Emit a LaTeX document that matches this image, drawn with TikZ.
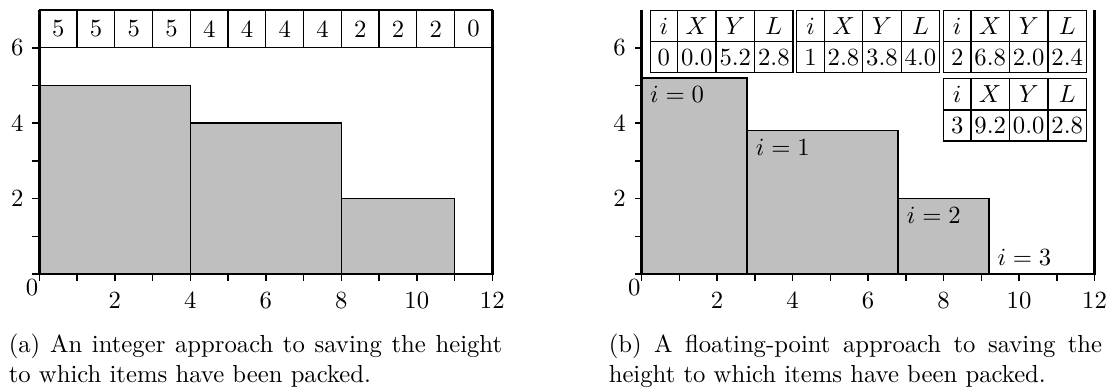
\documentclass[tikz,border=0pt]{standalone}
\usepackage{amsmath}
\usetikzlibrary{matrix}
\tikzset{
    axisline/.style={line width=1.2pt},
    tickline/.style={line width=0.6pt},
    tabline/.style={line width=0.5pt},
    bar/.style={fill=black!25, draw=black, line width=0.6pt},
    cell/.style={draw=black, line width=0.5pt, inner sep=0pt, minimum width=15.6pt, minimum height=12.6pt, text height=6.8pt, text depth=0pt},
    itemtab/.style={matrix of nodes, inner sep=0pt, anchor=north west, nodes={cell}, column sep=-0.5pt, row sep=-0.5pt, column 1/.style={nodes={minimum width=11.1pt}}},
    barlabel/.style={anchor=north west},
    caption/.style={anchor=north west, inner sep=0pt, text width=199.8pt, align=justify}
}

\begin{document}
\begin{tikzpicture}[x=0.405pt, y=-0.405pt]
    \useasboundingbox (0,0) rectangle (1110,387);

    % (a) integer heights
    \begin{scope}[shift={(39.3,274)}, x=15.29pt, y=15.27pt]
        % Packed items
        \draw[bar] (0,0) rectangle (4,5);
        \draw[bar] (4,0) rectangle (8,4);
        \draw[bar] (8,0) rectangle (11,2);

        % Saved height of every unit column
        \draw[tabline] (0,6) -- (12,6);
        \foreach \h [count=\k from 0] in {5,5,5,5,4,4,4,4,2,2,2,0} {
            \draw[tabline] (\k,6) rectangle (\k+1,7);
            \node (ha\k) at (\k+0.5,6.5) {\h};
        }

        % Axes
        \foreach \x in {0,...,12}
            \draw[tickline] (\x,0) -- (\x,-0.185);
        \foreach \y in {0,...,6}
            \draw[tickline] (0,\y) -- (-0.185,\y);
        \foreach \x in {2,4,...,12}
            \node[below] (xa\x) at (\x,-0.25) {\x};
        \foreach \y in {2,4,6}
            \node[left] (ya\y) at (-0.185,\y) {\y};
        \node[anchor=north east, inner sep=1pt] (xa0) at (0.05,-0.05) {0};
        \draw[axisline] (0,7) -- (0,0) -- (12,0) -- (12,7);
    \end{scope}

    % (b) floating-point heights
    \begin{scope}[shift={(641.5,274)}, x=15.29pt, y=15.27pt]
        % Packed items
        \draw[bar] (0,0) rectangle (2.8,5.2);
        \draw[bar] (2.8,0) rectangle (6.8,3.8);
        \draw[bar] (6.8,0) rectangle (9.2,2.0);
        \node[barlabel] (i0) at (0,5.2) {$i=0$};
        \node[barlabel] (i1) at (2.8,3.8) {$i=1$};
        \node[barlabel] (i2) at (6.8,2.0) {$i=2$};
        \node[anchor=south west] (i3) at (9.2,0) {$i=3$};

        % Axes
        \foreach \x in {0,...,12}
            \draw[tickline] (\x,0) -- (\x,-0.185);
        \foreach \y in {0,...,6}
            \draw[tickline] (0,\y) -- (-0.185,\y);
        \foreach \x in {2,4,...,12}
            \node[below] (xb\x) at (\x,-0.25) {\x};
        \foreach \y in {2,4,6}
            \node[left] (yb\y) at (-0.185,\y) {\y};
        \node[anchor=north east, inner sep=1pt] (xb0) at (0.05,-0.05) {0};
        \draw[axisline] (0,7) -- (0,0) -- (12,0) -- (12,7);
    \end{scope}

    % Saved items
    \matrix (tab0) [itemtab] at (649,9.3) {
        $i$ & $X$ & $Y$ & $L$ \\
        0 & 0.0 & 5.2 & 2.8 \\
    };
    \matrix (tab1) [itemtab] at (795.7,9.3) {
        $i$ & $X$ & $Y$ & $L$ \\
        1 & 2.8 & 3.8 & 4.0 \\
    };
    \matrix (tab2) [itemtab] at (942.4,9.3) {
        $i$ & $X$ & $Y$ & $L$ \\
        2 & 6.8 & 2.0 & 2.4 \\
    };
    \matrix (tab3) [itemtab] at (942.4,77.7) {
        $i$ & $X$ & $Y$ & $L$ \\
        3 & 9.2 & 0.0 & 2.8 \\
    };

    % Captions
    \node[caption] (capa) at (8.3,333.5) {(a) An integer approach to saving the height to which items have been packed.};
    \node[caption] (capb) at (608.3,333.5) {(b) A floating-point approach to saving the height to which items have been packed.};
\end{tikzpicture}
\end{document}
